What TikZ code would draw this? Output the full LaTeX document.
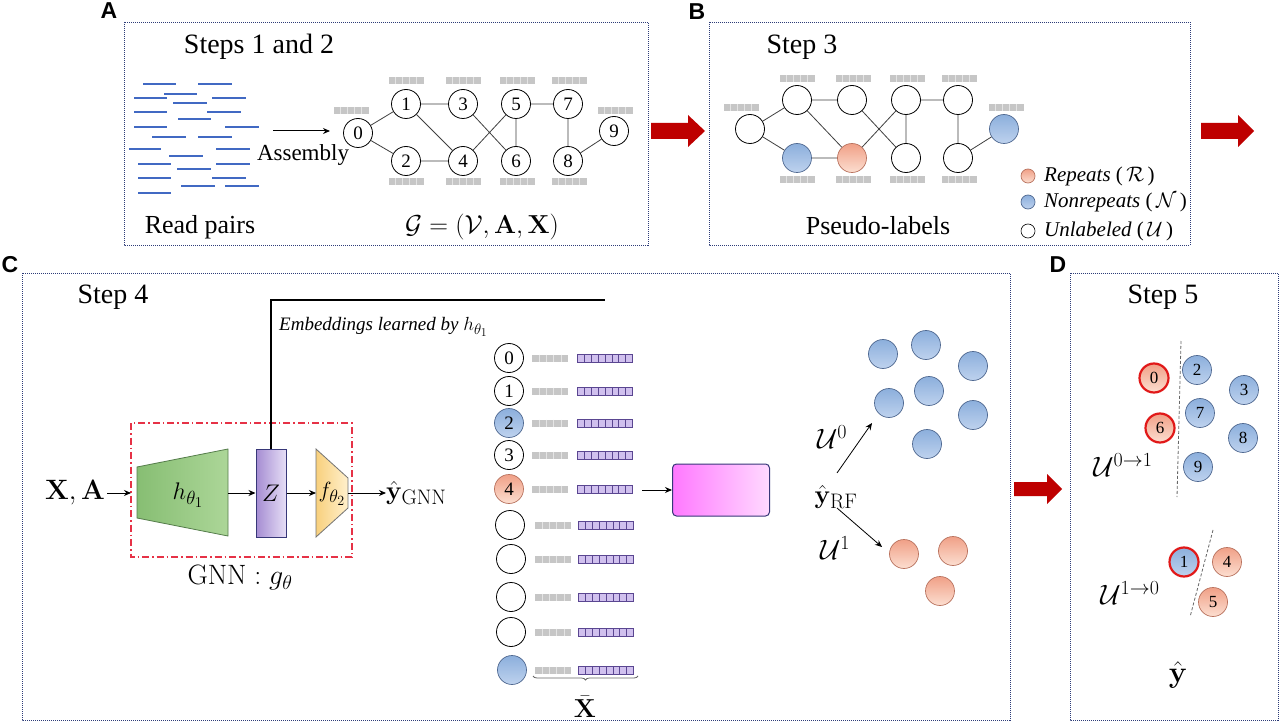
\RequirePackage{fix-cm}
\documentclass[tikz,border=0pt]{standalone}
\usepackage{amsmath}
\usepackage[no-math]{fontspec}
\setmainfont{Liberation Serif}
\newfontfamily\panelfont{Liberation Sans}
\usetikzlibrary{arrows.meta,decorations.pathreplacing}
\DeclareMathSizes{19}{19}{15}{12}
\DeclareMathSizes{22}{22}{18}{14}
\DeclareMathSizes{24}{24}{19}{15}
\DeclareMathSizes{26}{26}{21}{16}
\DeclareMathSizes{28}{28}{20}{15}
\DeclareMathSizes{30}{30}{22}{17}

\definecolor{panelc}{RGB}{45,60,120}
\definecolor{arrowred}{RGB}{190,0,0}
\definecolor{readblue}{RGB}{65,105,195}
\definecolor{blueA}{RGB}{140,175,220}
\definecolor{blueB}{RGB}{190,210,238}
\definecolor{blueE}{RGB}{80,105,145}
\definecolor{orA}{RGB}{240,160,135}
\definecolor{orB}{RGB}{252,222,208}
\definecolor{orE}{RGB}{185,115,95}
\definecolor{ringred}{RGB}{225,25,25}
\definecolor{grayfill}{RGB}{198,198,198}
\definecolor{grayline}{RGB}{228,228,228}
\definecolor{purpfill}{RGB}{208,192,238}
\definecolor{purpline}{RGB}{90,70,145}
\definecolor{greenA}{RGB}{135,190,115}
\definecolor{greenB}{RGB}{172,214,152}
\definecolor{greenE}{RGB}{85,125,75}
\definecolor{zA}{RGB}{165,140,210}
\definecolor{zB}{RGB}{230,222,246}
\definecolor{zE}{RGB}{55,55,120}
\definecolor{yelA}{RGB}{248,208,125}
\definecolor{yelB}{RGB}{255,240,205}
\definecolor{pinkA}{RGB}{255,120,255}
\definecolor{pinkB}{RGB}{255,218,255}
\definecolor{gnnred}{RGB}{230,50,70}

\newcommand{\featgray}[3]{%
  \fill[grayfill] ({#1-#3/2},{#2-3.5}) rectangle ({#1+#3/2},{#2+3.5});
  \foreach \k in {1,2,3,4}{\draw[grayline,line width=0.6] ({#1-#3/2+#3*\k/5},{#2-3.5}) -- ({#1-#3/2+#3*\k/5},{#2+3.5});}
}
\newcommand{\featpurp}[2]{%
  \filldraw[fill=purpfill,draw=purpline,line width=0.7] ({#1-27.5},{#2-4}) rectangle ({#1+27.5},{#2+4});
  \foreach \k in {1,...,7}{\draw[purpline,line width=0.6] ({#1-27.5+55*\k/8},{#2-4}) -- ({#1-27.5+55*\k/8},{#2+4});}
}

\tikzset{
  panel/.style={draw=panelc, line width=0.9, dash pattern=on 1pt off 1pt},
  plabel/.style={font=\panelfont\bfseries\fontsize{23}{23}\selectfont, inner sep=0},
  steptxt/.style={font=\fontsize{28}{30}\selectfont, inner sep=0},
  gnode/.style={circle, draw=black, line width=0.8, fill=white, minimum size=29, inner sep=0, font=\fontsize{19}{19}\selectfont},
  gedge/.style={draw=black!75, line width=0.8},
  readln/.style={draw=readblue, line width=1.6},
  bluenode/.style={circle, draw=blueE, line width=0.7, top color=blueA, bottom color=blueB, minimum size=29, inner sep=0, font=\fontsize{19}{19}\selectfont},
  ornode/.style={circle, draw=orE, line width=0.7, top color=orA, bottom color=orB, minimum size=29, inner sep=0, font=\fontsize{19}{19}\selectfont},
  ringed/.style={draw=ringred, line width=2.2},
  conn/.style={draw=black, line width=1, -{Stealth[length=7pt,width=6pt]}},
  dline/.style={draw=black!60, line width=0.8, dash pattern=on 3pt off 2pt},
  redarrow/.style={fill=arrowred},
  dnum/.style={font=\fontsize{17}{17}\selectfont},
}

\begin{document}
\begin{tikzpicture}[x=1pt,y=-1pt]
\useasboundingbox (0,0) rectangle (1280,722);
\fill[white] (0,0) rectangle (1280,722);

% ---------------- panels
\draw[panel] (124,22) rectangle (648,245);
\draw[panel] (709,22) rectangle (1190,245);
\draw[panel] (22,273) rectangle (1010,720);
\draw[panel] (1070,273) rectangle (1278,720);
\node[plabel] (labA) at (109,11) {A};
\node[plabel] (labB) at (697,12) {B};
\node[plabel] (labC) at (10,265) {C};
\node[plabel] (labD) at (1058,265) {D};

% red arrows
\path[redarrow] (651,123) -- (688,123) -- (688,115) -- (705,131) -- (688,147) -- (688,139) -- (651,139) -- cycle;
\path[redarrow] (1201,123) -- (1238,123) -- (1238,115) -- (1254,131) -- (1238,147) -- (1238,139) -- (1201,139) -- cycle;
\path[redarrow] (1014,482) -- (1047,482) -- (1047,474) -- (1062,489) -- (1047,504) -- (1047,496) -- (1014,496) -- cycle;

% ---------------- panel A
\node[steptxt] (s12) at (259,47) {Steps 1 and 2};
\foreach \a/\b/\c in {143/176/84,198/232/84,164/197/94,134/167/98,212/246/98,173/207/103,
  134/167/112,207/241/112,178/211/119,134/167/127,225/259/127,152/186/137,198/232/137,
  129/161/149,216/250/149,169/203/156,138/171/164,216/250/164,177/211/169,138/171/178,
  212/246/178,181/215/186,225/259/186,138/171/193}
  {\draw[readln] (\a,\c) -- (\b,\c);}
\coordinate (asmS) at (273,131);
\coordinate (asmE) at (330,131);
\draw[conn] (asmS) -- (asmE);
\node[font=\fontsize{23}{23}\selectfont, inner sep=0] (asm) at (303,155) {Assembly};

\featgray{351}{111}{35}
\featgray{406}{81}{35}
\featgray{463}{81}{35}
\featgray{517}{81}{35}
\featgray{569}{81}{35}
\featgray{615}{111}{35}
\featgray{406}{182}{35}
\featgray{463}{182}{35}
\featgray{517}{182}{35}
\featgray{569}{182}{35}

\node[gnode] (a0) at (358,133) {0};
\node[gnode] (a1) at (406,104) {1};
\node[gnode] (a2) at (406,161) {2};
\node[gnode] (a3) at (463,104) {3};
\node[gnode] (a4) at (463,161) {4};
\node[gnode] (a5) at (516,104) {5};
\node[gnode] (a6) at (516,161) {6};
\node[gnode] (a7) at (568,104) {7};
\node[gnode] (a8) at (568,161) {8};
\node[gnode] (a9) at (614,131) {9};
\draw[gedge] (a0)--(a1) (a0)--(a2) (a1)--(a3) (a1)--(a4) (a2)--(a4) (a3)--(a6)
  (a4)--(a5) (a5)--(a6) (a5)--(a7) (a7)--(a8) (a8)--(a9);
\node[font=\fontsize{26}{26}\selectfont, inner sep=0] (readp) at (200,227) {Read pairs};
\node[font=\fontsize{26}{26}\selectfont, inner sep=0] (gdef) at (482,227) {$\mathcal{G}=(\mathcal{V},\mathbf{A},\mathbf{X})$};

% ---------------- panel B
\node[steptxt] (s3) at (802,47) {Step 3};
\featgray{741}{108}{35}
\featgray{797}{79}{35}
\featgray{853}{79}{35}
\featgray{907}{79}{35}
\featgray{959}{79}{35}
\featgray{1006}{108}{35}
\featgray{797}{180}{35}
\featgray{853}{180}{35}
\featgray{907}{180}{35}
\featgray{959}{180}{35}
\node[gnode] (b0) at (750,129) {};
\node[gnode] (b1) at (797,100) {};
\node[bluenode] (b2) at (797,158) {};
\node[gnode] (b3) at (852,100) {};
\node[ornode] (b4) at (852,158) {};
\node[gnode] (b5) at (906,100) {};
\node[gnode] (b6) at (906,158) {};
\node[gnode] (b7) at (958,100) {};
\node[gnode] (b8) at (958,158) {};
\node[bluenode] (b9) at (1004,129) {};
\draw[gedge] (b0)--(b1) (b0)--(b2) (b1)--(b3) (b1)--(b4) (b2)--(b4) (b3)--(b6)
  (b4)--(b5) (b5)--(b6) (b5)--(b7) (b7)--(b8) (b8)--(b9);
\node[font=\fontsize{26}{26}\selectfont, inner sep=0] (pseudo) at (878,226) {Pseudo-labels};
\node[ornode, minimum size=14] (lgR) at (1028,176) {};
\node[bluenode, minimum size=14] (lgN) at (1028,202) {};
\node[gnode, minimum size=14, line width=0.6] (lgU) at (1028,231) {};
\node[anchor=west, font=\fontsize{21}{21}\selectfont, inner sep=0] (lgRt) at (1044,176) {\textit{Repeats} ($\,\mathcal{R}\,$)};
\node[anchor=west, font=\fontsize{21}{21}\selectfont, inner sep=0] (lgNt) at (1044,202) {\textit{Nonrepeats} ($\,\mathcal{N}\,$)};
\node[anchor=west, font=\fontsize{21}{21}\selectfont, inner sep=0] (lgUt) at (1044,231) {\textit{Unlabeled} ($\,\mathcal{U}\,$)};

% ---------------- panel C
\node[steptxt] (s4) at (113,297) {Step 4};
\draw[gnnred, line width=1.1, dash pattern=on 7pt off 3pt on 1.5pt off 3pt] (131,423) rectangle (352,557);
\path[draw=greenE, line width=0.8, left color=greenA, right color=greenB]
  (137,467) -- (228,449) -- (228,536) -- (137,518) -- cycle;
\node[font=\fontsize{24}{24}\selectfont] (hlab) at (188,495) {$h_{\theta_1}$};
\node[draw=zE, line width=1, left color=zA, right color=zB, minimum width=30, minimum height=88, inner sep=0, font=\fontsize{24}{24}\selectfont] (Z) at (271,493) {$Z$};
\path[draw=black!55, line width=0.8, left color=yelA, right color=yelB]
  (316,449) -- (348,478) -- (348,508) -- (316,537) -- cycle;
\node[font=\fontsize{22}{22}\selectfont] (flab) at (332,494) {$f_{\theta_2}$};
\node[font=\fontsize{28}{28}\selectfont, inner sep=2] (XA) at (75,493) {$\mathbf{X},\mathbf{A}$};
\coordinate (gnnIn) at (131,493);
\coordinate (hR) at (228,493);
\coordinate (fL) at (316,493);
\coordinate (fR) at (348,493);
\draw[conn] (XA.east) -- (gnnIn);
\draw[conn] (hR) -- (Z.west);
\draw[conn] (Z.east) -- (fL);
\node[anchor=west, font=\fontsize{26}{26}\selectfont, inner sep=0] (ygnn) at (386,493) {$\hat{\mathbf{y}}_{\mathrm{GNN}}$};
\draw[conn] (fR) -- (ygnn.west);
\node[font=\fontsize{28}{28}\selectfont] (gnnlab) at (240,578) {$\mathrm{GNN}:g_{\theta}$};

\coordinate (embC) at (271,300);
\coordinate (embE) at (605,300);
\draw[line width=1.2] (Z.north) -- (embC) -- (embE);
\node[anchor=west, font=\fontsize{19}{19}\selectfont, inner sep=0] (embtxt) at (279,327) {\textit{Embeddings learned by} $h_{\theta_1}$};

% column of nodes
\node[gnode] (c0) at (509,358) {0};
\node[gnode] (c1) at (509,391) {1};
\node[bluenode] (c2) at (509,423) {2};
\node[gnode] (c3) at (509,455) {3};
\node[ornode] (c4) at (509,489) {4};
\node[gnode] (c5) at (510,525) {};
\node[gnode] (c6) at (511,559) {};
\node[gnode] (c7) at (511,597) {};
\node[gnode] (c8) at (511,632) {};
\node[bluenode] (c9) at (512,670) {};
\foreach \yy in {358,391,423,455,489} {\featgray{550}{\yy}{36}\featpurp{605}{\yy}}
\foreach \yy in {525,559,597,632,670} {\featgray{553}{\yy}{36}\featpurp{606}{\yy}}
\draw[decorate, decoration={brace, mirror, amplitude=4}, draw=black!60, line width=0.8] (533,676) -- (638,676);
\node[font=\fontsize{26}{26}\selectfont] (Xbar) at (585,707) {$\bar{\mathbf{X}}$};

\node[draw=zE, line width=1, rounded corners=4, left color=pinkA, right color=pinkB, minimum width=97, minimum height=52] (rf) at (721,490) {};
\coordinate (colR) at (642,490);
\draw[conn] (colR) -- (rf.west);

\node[font=\fontsize{26}{26}\selectfont] (yrf) at (836,497) {$\hat{\mathbf{y}}_{\mathrm{RF}}$};
\coordinate (rfup) at (837,473);
\coordinate (u0tip) at (872,423);
\coordinate (rfdn) at (837,508);
\coordinate (u1tip) at (882,547);
\draw[conn, line width=0.8] (rfup) -- (u0tip);
\draw[conn, line width=0.8] (rfdn) -- (u1tip);
\node[font=\fontsize{28}{28}\selectfont] (u0) at (832,437) {$\mathcal{U}^0$};
\node[font=\fontsize{28}{28}\selectfont] (u1) at (835,548) {$\mathcal{U}^1$};

\node[bluenode] (e1) at (883,354) {};
\node[bluenode] (e2) at (926,345) {};
\node[bluenode] (e3) at (973,366) {};
\node[bluenode] (e4) at (889,403) {};
\node[bluenode] (e5) at (929,391) {};
\node[bluenode] (e6) at (973,415) {};
\node[bluenode] (e7) at (927,444) {};
\node[ornode] (o1) at (904,554) {};
\node[ornode] (o2) at (953,551) {};
\node[ornode] (o3) at (940,591) {};

% ---------------- panel D
\node[steptxt] (s5) at (1163,297) {Step 5};
\coordinate (dl1a) at (1181,341);
\coordinate (dl1b) at (1177,497);
\coordinate (dl2a) at (1213,530);
\coordinate (dl2b) at (1190,617);
\draw[dline] (dl1a) -- (dl1b);
\draw[dline] (dl2a) -- (dl2b);
\node[ornode, ringed, dnum] (d0) at (1154,378) {0};
\node[ornode, ringed, dnum] (d6) at (1160,428) {6};
\node[bluenode, dnum] (d2) at (1197,370) {2};
\node[bluenode, dnum] (d7) at (1200,413) {7};
\node[bluenode, dnum] (d9) at (1198,467) {9};
\node[bluenode, dnum] (d3) at (1244,390) {3};
\node[bluenode, dnum] (d8) at (1243,438) {8};
\node[bluenode, ringed, dnum] (d1) at (1184,562) {1};
\node[ornode, dnum] (d4) at (1227,562) {4};
\node[ornode, dnum] (d5) at (1213,602) {5};
\node[font=\fontsize{28}{28}\selectfont] (u01) at (1123,465) {$\mathcal{U}^{0\to1}$};
\node[font=\fontsize{28}{28}\selectfont] (u10) at (1130,593) {$\mathcal{U}^{1\to0}$};
\node[font=\fontsize{30}{30}\selectfont] (yhat) at (1178,675) {$\hat{\mathbf{y}}$};
\end{tikzpicture}
\end{document}
